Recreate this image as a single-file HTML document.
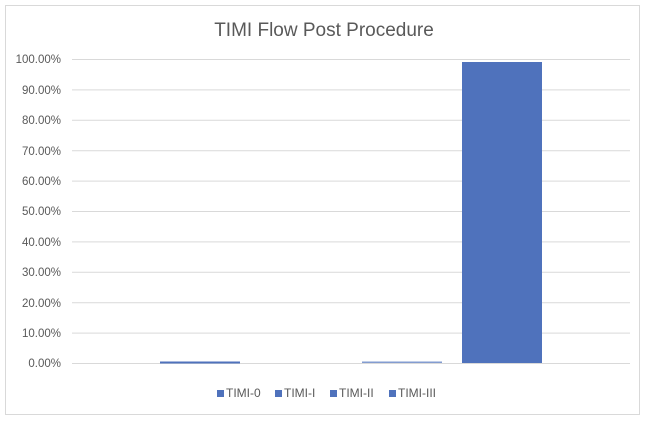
<!DOCTYPE html>
<html><head><style>
body{margin:0;background:#fff;}
svg text{font-family:"Liberation Sans",sans-serif;fill:#595959;}
</style></head><body>
<svg width="650" height="423" xmlns="http://www.w3.org/2000/svg">
<rect x="5.5" y="5.5" width="634" height="409" fill="#fff" stroke="#d9d9d9"/>
<text x="324" y="36" font-size="19" text-anchor="middle">TIMI Flow Post Procedure</text>
<g stroke="#d9d9d9" stroke-width="1">
<line x1="72" x2="630" y1="59.5" y2="59.5"/>
<line x1="72" x2="630" y1="89.9" y2="89.9"/>
<line x1="72" x2="630" y1="120.3" y2="120.3"/>
<line x1="72" x2="630" y1="150.7" y2="150.7"/>
<line x1="72" x2="630" y1="181.1" y2="181.1"/>
<line x1="72" x2="630" y1="211.5" y2="211.5"/>
<line x1="72" x2="630" y1="241.9" y2="241.9"/>
<line x1="72" x2="630" y1="272.3" y2="272.3"/>
<line x1="72" x2="630" y1="302.7" y2="302.7"/>
<line x1="72" x2="630" y1="333.1" y2="333.1"/>
<line x1="72" x2="630" y1="363.5" y2="363.5"/>
</g>
<g font-size="11.5" text-anchor="end">
<text x="61" y="63">100.00%</text>
<text x="61" y="94">90.00%</text>
<text x="61" y="124">80.00%</text>
<text x="61" y="155">70.00%</text>
<text x="61" y="185">60.00%</text>
<text x="61" y="215">50.00%</text>
<text x="61" y="246">40.00%</text>
<text x="61" y="276">30.00%</text>
<text x="61" y="307">20.00%</text>
<text x="61" y="337">10.00%</text>
<text x="61" y="367">0.00%</text>
</g>
<rect x="160" y="361.5" width="80" height="2" fill="#4f72bc"/>
<rect x="362" y="361.5" width="80" height="1.5" fill="#4f72bc" opacity="0.7"/>
<rect x="462" y="62" width="80" height="301" fill="#4f72bc"/>
<g font-size="12">
<rect x="217" y="390" width="7" height="7" fill="#4f72bc"/><text x="226" y="397">TIMI-0</text>
<rect x="275" y="390" width="7" height="7" fill="#4f72bc"/><text x="284" y="397">TIMI-I</text>
<rect x="330" y="390" width="7" height="7" fill="#4f72bc"/><text x="339" y="397">TIMI-II</text>
<rect x="389" y="390" width="7" height="7" fill="#4f72bc"/><text x="398" y="397">TIMI-III</text>
</g>
</svg>
</body></html>
